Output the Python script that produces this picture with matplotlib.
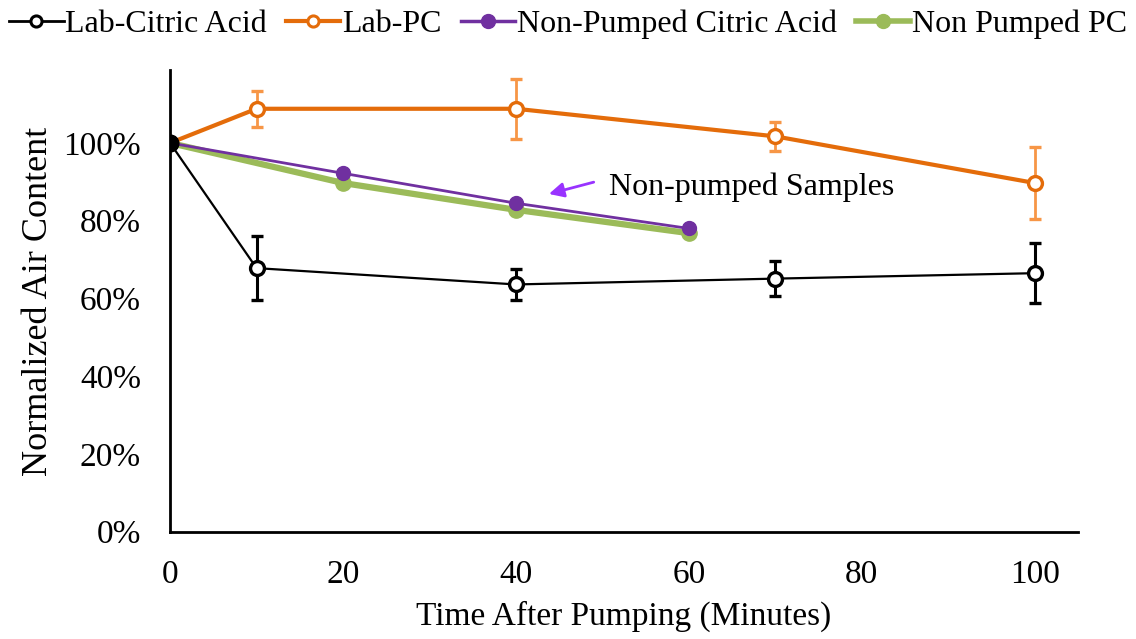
import numpy as np
import matplotlib.pyplot as plt
from matplotlib.lines import Line2D
from matplotlib.ticker import PercentFormatter

plt.rcParams['font.family'] = ['Liberation Serif', 'DejaVu Serif']

# lab samples
lab_time = [0, 10, 40, 70, 100]
lab_citric = [100, 67.8, 63.6, 65.1, 66.5]
lab_citric_err = [0, 8.3, 4.1, 4.6, 7.7]
lab_pc = [100, 108.8, 108.8, 101.7, 89.7]
lab_pc_err = [0, 4.6, 7.7, 3.7, 9.2]

# non-pumped samples
np_time = [0, 20, 40, 60]
np_citric = [100, 92.2, 84.5, 78.0]
np_pc = [100, 89.7, 82.8, 76.8]

fig = plt.figure(figsize=(11.36, 6.39), dpi=100)
ax = fig.add_axes([0.1497, 0.168, 0.7993, 0.722])

ax.errorbar(lab_time, lab_citric, yerr=lab_citric_err, color='black', lw=1.6,
            marker='o', ms=10, mfc='white', mec='black', mew=2.4,
            ecolor='black', elinewidth=2.2, capsize=4.5, capthick=2.2,
            zorder=4)
ax.errorbar(lab_time, lab_pc, yerr=lab_pc_err, color='#E46C0A', lw=3,
            marker='o', ms=10, mfc='white', mec='#E46C0A', mew=2.4,
            ecolor='#F79646', elinewidth=2, capsize=4.5, capthick=2,
            zorder=3)
ax.plot(np_time, np_pc, color='#9BBB59', lw=4.5, marker='o', ms=11, zorder=2)
ax.plot(np_time, np_citric, color='#7030A0', lw=2, marker='o', ms=10,
        zorder=2.5)
# shared starting point
ax.plot(lab_time[0], lab_citric[0], 'o', color='black', ms=12, zorder=5)

ax.annotate('', xy=(43.5, 86.7), xytext=(49.3, 90.1),
            arrowprops=dict(arrowstyle='-|>', color='#9933FF', lw=2,
                            mutation_scale=22))
ax.text(50.8, 88.6, 'Non-pumped Samples', fontsize=23, va='center', ha='left')

ax.set_xlim(0, 105)
ax.set_ylim(0, 118.7)
ax.set_xticks([0, 20, 40, 60, 80, 100])
ax.set_yticks(np.arange(0, 101, 20))
ax.yaxis.set_major_formatter(PercentFormatter(decimals=0))
ax.tick_params(length=0, labelsize=24)
ax.tick_params(axis='y', pad=21)
ax.tick_params(axis='x', pad=20)
for side in ['top', 'right']:
    ax.spines[side].set_visible(False)
for side in ['left', 'bottom']:
    ax.spines[side].set_linewidth(2)
ax.set_xlabel('Time After Pumping (Minutes)', fontsize=24, labelpad=8)
ax.set_ylabel('Normalized Air Content', fontsize=26, labelpad=6)

handles = [
    Line2D([], [], color='black', lw=2, marker='o', ms=8, mfc='white',
           mec='black', mew=2.2),
    Line2D([], [], color='#E46C0A', lw=3, marker='o', ms=8, mfc='white',
           mec='#E46C0A', mew=2.2),
    Line2D([], [], color='#7030A0', lw=2.5, marker='o', ms=10),
    Line2D([], [], color='#9BBB59', lw=4, marker='o', ms=10),
]
labels = ['Lab-Citric Acid', 'Lab-PC', 'Non-Pumped Citric Acid', 'Non Pumped PC']
fig.legend(handles, labels, loc='upper center', bbox_to_anchor=(0.5, 1.03),
           ncol=4, frameon=False, fontsize=23, handlelength=1.7,
           handletextpad=0.05, columnspacing=0.6)

fig.savefig('out.png', dpi=100)
